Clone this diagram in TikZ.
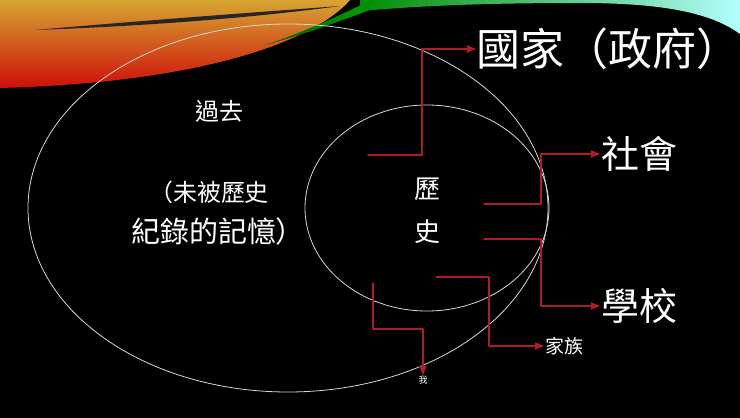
\documentclass[tikz,border=0pt]{standalone}
\usepackage{fontspec}
\newfontfamily\cjk{Noto Sans CJK TC}
\usepackage{tikz}
\usetikzlibrary{arrows}
\definecolor{linkred}{RGB}{175,30,40}
\definecolor{ringgray}{RGB}{215,215,215}
\definecolor{warmtop}{RGB}{215,165,50}
\definecolor{warmmid}{RGB}{235,95,20}
\definecolor{warmlow}{RGB}{205,15,10}
\begin{document}
\begin{tikzpicture}[line cap=round,line join=round,>=triangle 45,x=1pt,y=-1pt,
  ring/.style={draw=ringgray,line width=0.8pt},
  link/.style={draw=linkred,line width=1.1pt,->},
  lbl/.style={text=white,inner sep=1pt}]
\useasboundingbox (0,0) rectangle (740,418);
\fill[black] (0,0) rectangle (740,418);
\shade[top color=warmtop,middle color=warmmid,bottom color=warmlow]
  (0,0) -- (350,0) .. controls (320,35) and (220,82) .. (0,88) -- cycle;
\fill[black!85] (35,30) .. controls (150,20) and (260,12) .. (340,6) .. controls (260,17) and (150,26) .. (35,30) -- cycle;
\shade[left color=green!35!black,right color=green!70!black]
  (262,46) .. controls (300,34) and (340,15) .. (372,0) -- (395,0) .. controls (360,14) and (310,33) .. (262,46) -- cycle;
\shade[left color=green!55!black,middle color=cyan!75!blue!80!white,right color=cyan!30!white]
  (360,0) -- (740,0) -- (740,34) .. controls (710,12) and (660,3) .. (580,3) .. controls (480,3) and (420,6) .. (360,11) -- cycle;
\draw[ring] (288,208) ellipse [x radius=260pt,y radius=184pt];
\draw[ring] (427,208) ellipse [x radius=122pt,y radius=103pt];
\node[lbl,font=\cjk\fontsize{24}{24}\selectfont] (past) at (219,111) {過去};
\node[lbl,font=\cjk\fontsize{24}{24}\selectfont] (memo1) at (209,192) {（未被歷史};
\node[lbl,font=\cjk\fontsize{29}{29}\selectfont] (memo2) at (218,231) {紀錄的記憶）};
\node[lbl,font=\cjk\fontsize{26}{43}\selectfont,align=center] (hist) at (427,211) {歷\\史};
\node[lbl,inner sep=0pt,font=\cjk\fontsize{44}{44}\selectfont,anchor=west] (gov) at (476,49) {國家（政府）};
\node[lbl,font=\cjk\fontsize{38}{38}\selectfont,anchor=west] (soc) at (600,154) {社會};
\node[lbl,font=\cjk\fontsize{38}{38}\selectfont,anchor=west] (sch) at (600,306) {學校};
\node[lbl,font=\cjk\fontsize{19}{19}\selectfont,anchor=west] (fam) at (544,346) {家族};
\node[lbl,font=\cjk\fontsize{9}{9}\selectfont,anchor=north] (me) at (423,375) {我};
\coordinate (govsrc) at (368,155);
\coordinate (socsrc) at (484,204);
\coordinate (schsrc) at (484,239);
\coordinate (famsrc) at (436,277);
\coordinate (mesrc) at (373,283);
\draw[link] (govsrc) -- ++(54,0) |- (gov.west);
\draw[link] (socsrc) -- ++(57,0) |- (soc.west);
\draw[link] (schsrc) -- ++(57,0) |- (sch.west);
\draw[link] (famsrc) -- ++(53,0) |- (fam.west);
\draw[link] (mesrc) -- ++(0,46) -| (me.north);
\end{tikzpicture}
\end{document}
